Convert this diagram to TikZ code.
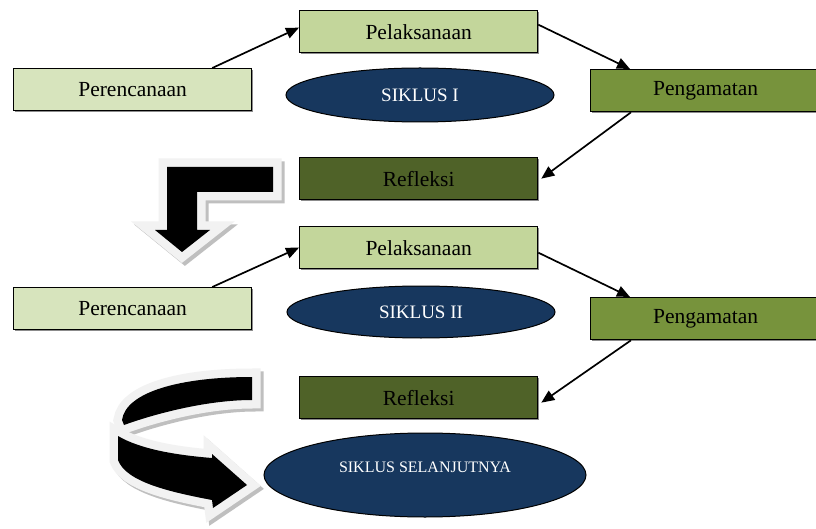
\documentclass[tikz,border=0pt]{standalone}
\usepackage{fontspec}
\setmainfont{Liberation Serif}
\usetikzlibrary{arrows.meta,shapes.geometric,shadows,calc}
\definecolor{cPer}{HTML}{D7E4BD}
\definecolor{cPel}{HTML}{C3D69B}
\definecolor{cPen}{HTML}{77933C}
\definecolor{cRef}{HTML}{4F6228}
\definecolor{cEll}{HTML}{17375E}
\definecolor{cOut}{HTML}{F2F2F2}
\definecolor{cSh}{HTML}{BFBFBF}
\def\bentArrowPath{(273,167) -- (167,167) -- (167,230) -- (155,230) -- (182,252) -- (210,230) -- (197,230) -- (197,192) -- (273,192) -- cycle}
\def\curveUpPath{(252,377) .. controls (180,377) and (126,392) .. (122,420) -- (124,425) .. controls (160,412) and (210,400) .. (252,400) -- cycle}
\def\curveLowPath{(118,436) .. controls (140,449) and (175,455) .. (212,458) -- (212,454) -- (247,485) -- (213,508) -- (212,500) .. controls (170,492) and (126,482) .. (118,460) -- cycle}
\begin{document}
\begin{tikzpicture}[x=1pt,y=-1pt,
  box/.style={draw=black,line width=1.3pt,minimum width=238pt,minimum height=42pt,inner sep=0pt,anchor=north west,
    font=\fontsize{21.5}{24}\selectfont,
    drop shadow={shadow xshift=1.5pt,shadow yshift=-1.5pt,fill=black!45,opacity=1}},
  cyc/.style={ellipse,draw=black,line width=1pt,fill=cEll,text=white,inner sep=0pt,font=\fontsize{19}{21}\selectfont},
  conn/.style={line width=1.7pt,-{Triangle[length=13pt,width=11pt]}},
  outl/.style={line width=17pt,line join=miter},
]
\fill[white] (0,0) rectangle (816,529);
\useasboundingbox (0,0) rectangle (816,529);

% big bent arrow
\filldraw[cSh,outl,shift={(3,3)}] \bentArrowPath;
\filldraw[cOut,outl] \bentArrowPath;
\fill[black] \bentArrowPath;

% curved arrow
\filldraw[cSh,outl,shift={(3,3)}] \curveUpPath;
\filldraw[cSh,outl,shift={(3,3)}] \curveLowPath;
\filldraw[cOut,outl] \curveUpPath;
\filldraw[cOut,outl] \curveLowPath;
\fill[black] \curveUpPath;
\fill[black] \curveLowPath;

% cycle 1
\node[box,fill=cPer] (per1) at (13,68) {Perencanaan};
\node[box,fill=cPel] (pel1) at (299,10) {Pelaksanaan};
\node[box,fill=cPen,minimum width=230pt] (pen1) at (590,69) {Pengamatan};
\node[box,fill=cRef] (ref1) at (299,157) {Refleksi};
\node[cyc,minimum width=268pt,minimum height=54pt] (sik1) at (420,95) {SIKLUS I};

% cycle 2
\node[box,fill=cPer] (per2) at (13,287) {Perencanaan};
\node[box,fill=cPel] (pel2) at (299,226) {Pelaksanaan};
\node[box,fill=cPen,minimum width=230pt] (pen2) at (590,297) {Pengamatan};
\node[box,fill=cRef] (ref2) at (299,376) {Refleksi};
\node[cyc,minimum width=268pt,minimum height=52pt] (sik2) at (421,312) {SIKLUS II};

% next cycle
\node[cyc,minimum width=322pt,minimum height=84pt] (sel) at (425,475) {};
\node[text=white,font=\fontsize{16}{18}\selectfont,inner sep=0pt] (seltext) at ([yshift=8pt]sel.center) {SIKLUS SELANJUTNYA};

% connectors
\draw[conn] ([xshift=-40pt]per1.north east) -- ([yshift=4pt]pel1.west);
\draw[conn] ([yshift=7pt]pel1.east) -- ([xshift=40pt]pen1.north west);
\draw[conn] ([xshift=41pt]pen1.south west) -- ([xshift=3pt]ref1.east);
\draw[conn] ([xshift=-40pt]per2.north east) -- (pel2.west);
\draw[conn] ([yshift=-5pt]pel2.east) -- ([xshift=40pt]pen2.north west);
\draw[conn] ([xshift=41pt]pen2.south west) -- ([xshift=3pt,yshift=-5pt]ref2.east);
\end{tikzpicture}
\end{document}
